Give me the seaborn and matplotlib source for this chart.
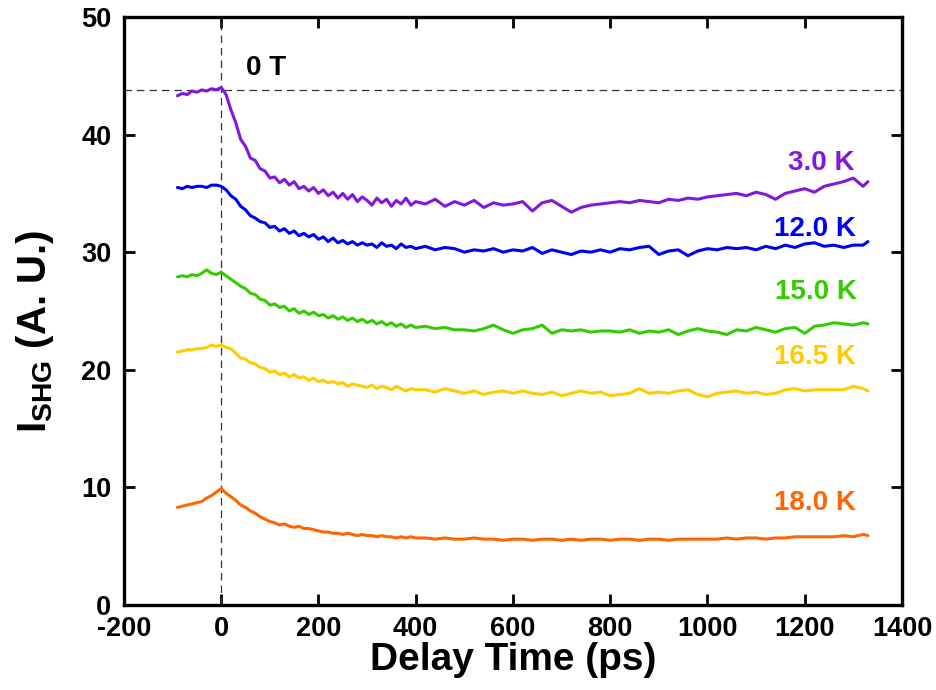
import numpy as np
import pandas as pd
import matplotlib
matplotlib.use("Agg")
import matplotlib.pyplot as plt
import seaborn as sns

# Delay-time sampling (ps): fine steps through the fast decay, coarser afterwards
delay = np.r_[np.arange(-90, 401, 10), np.arange(420, 1321, 20), 1330]

shg_3K = [43.3, 43.5, 43.4, 43.7, 43.6, 43.8, 43.7, 43.9, 43.8, 44.0,
          43.4, 42.1, 41.0, 39.6, 39.0, 38.0, 37.8, 37.1, 36.9, 36.3,
          36.4, 35.9, 36.2, 35.7, 36.0, 35.4, 35.6, 35.2, 35.5, 35.0,
          35.3, 34.8, 35.1, 34.6, 35.0, 34.5, 34.9, 34.3, 34.7, 34.4,
          34.0, 34.6, 34.2, 34.5, 33.9, 34.4, 34.1, 34.6, 34.0, 34.3,
          34.1, 34.5, 33.9, 34.3, 34.0, 34.4, 33.8, 34.2, 34.0, 34.1,
          34.3, 33.5, 34.2, 34.4, 33.9, 33.4, 33.8, 34.0, 34.1, 34.2,
          34.3, 34.2, 34.4, 34.3, 34.2, 34.5, 34.4, 34.6, 34.5, 34.7,
          34.8, 34.9, 35.0, 34.8, 35.1, 34.9, 34.5, 35.0, 35.2, 35.4,
          35.1, 35.6, 35.8, 36.0, 36.3, 35.6, 36.0]

shg_12K = [35.5, 35.4, 35.6, 35.5, 35.6, 35.6, 35.5, 35.7, 35.7, 35.6,
           35.3, 34.8, 34.5, 33.9, 33.6, 33.1, 32.9, 32.6, 32.5, 32.1,
           32.2, 31.8, 32.0, 31.6, 31.8, 31.4, 31.6, 31.3, 31.5, 31.1,
           31.3, 30.9, 31.2, 30.8, 31.0, 30.7, 30.9, 30.6, 30.8, 30.6,
           30.7, 30.4, 30.8, 30.5, 30.6, 30.3, 30.7, 30.4, 30.5, 30.3,
           30.5, 30.2, 30.4, 30.3, 30.0, 30.2, 30.1, 30.3, 30.0, 30.2,
           30.1, 30.4, 29.9, 30.2, 30.0, 29.8, 30.1, 30.0, 30.2, 30.0,
           30.3, 30.2, 30.4, 30.5, 29.8, 30.1, 30.2, 29.7, 30.1, 30.3,
           30.2, 30.4, 30.3, 30.4, 30.2, 30.5, 30.3, 30.6, 30.4, 30.7,
           30.8, 30.5, 30.6, 30.4, 30.6, 30.6, 30.9]

shg_15K = [27.9, 28.0, 27.9, 28.1, 28.0, 28.2, 28.5, 28.2, 28.1, 28.3,
           28.0, 27.7, 27.4, 27.1, 26.9, 26.5, 26.4, 26.0, 25.9, 25.5,
           25.6, 25.3, 25.4, 25.0, 25.2, 24.8, 25.0, 24.7, 24.9, 24.6,
           24.7, 24.4, 24.6, 24.3, 24.5, 24.2, 24.4, 24.1, 24.3, 24.0,
           24.2, 23.9, 24.1, 23.8, 24.0, 23.7, 23.9, 23.6, 23.8, 23.6,
           23.7, 23.5, 23.6, 23.4, 23.4, 23.3, 23.5, 23.8, 23.4, 23.1,
           23.4, 23.5, 23.8, 23.1, 23.4, 23.3, 23.4, 23.2, 23.3, 23.3,
           23.2, 23.4, 23.1, 23.3, 23.2, 23.4, 23.0, 23.3, 23.5, 23.3,
           23.2, 23.0, 23.4, 23.3, 23.6, 23.4, 23.2, 23.5, 23.6, 23.1,
           23.7, 23.8, 24.0, 23.9, 23.8, 24.0, 23.9]

shg_16p5K = [21.5, 21.6, 21.7, 21.7, 21.8, 21.8, 21.9, 22.1, 22.0, 22.1,
             21.9, 21.8, 21.4, 21.0, 20.9, 20.6, 20.5, 20.2, 20.1, 19.8,
             19.9, 19.6, 19.7, 19.4, 19.6, 19.3, 19.4, 19.1, 19.3, 19.0,
             19.1, 18.9, 19.0, 18.8, 18.9, 18.6, 18.8, 18.7, 18.6, 18.5,
             18.7, 18.4, 18.6, 18.5, 18.3, 18.6, 18.4, 18.2, 18.4, 18.3,
             18.3, 18.1, 18.4, 18.2, 18.0, 18.2, 17.9, 18.1, 18.2, 18.0,
             18.2, 18.0, 17.9, 18.1, 17.8, 18.0, 18.2, 18.0, 18.1, 17.8,
             17.9, 18.0, 18.4, 18.0, 18.1, 18.0, 18.2, 18.3, 17.9, 17.7,
             18.0, 18.1, 18.2, 18.0, 18.1, 17.9, 18.0, 18.3, 18.4, 18.2,
             18.3, 18.3, 18.3, 18.3, 18.6, 18.4, 18.2]

shg_18K = [8.3, 8.4, 8.5, 8.6, 8.7, 8.8, 9.1, 9.3, 9.6, 9.9,
           9.5, 9.2, 8.9, 8.5, 8.3, 8.0, 7.8, 7.5, 7.3, 7.1,
           7.0, 6.8, 6.9, 6.7, 6.6, 6.7, 6.5, 6.5, 6.4, 6.3,
           6.2, 6.2, 6.1, 6.1, 6.0, 6.1, 6.0, 5.9, 6.0, 5.9,
           5.9, 5.8, 5.9, 5.8, 5.8, 5.7, 5.8, 5.7, 5.8, 5.7,
           5.7, 5.6, 5.7, 5.6, 5.6, 5.7, 5.6, 5.6, 5.5, 5.6,
           5.6, 5.5, 5.6, 5.6, 5.5, 5.6, 5.5, 5.6, 5.6, 5.5,
           5.6, 5.6, 5.5, 5.6, 5.6, 5.5, 5.6, 5.6, 5.6, 5.6,
           5.6, 5.7, 5.6, 5.7, 5.7, 5.6, 5.7, 5.7, 5.8, 5.8,
           5.8, 5.8, 5.8, 5.9, 5.8, 6.0, 5.9]

temps = ["3.0 K", "12.0 K", "15.0 K", "16.5 K", "18.0 K"]
series = [shg_3K, shg_12K, shg_15K, shg_16p5K, shg_18K]
colors = ["#8018E0", "#0000F5", "#33CC00", "#FFCC00", "#FF6600"]
# where each temperature tag sits (ps, A.U.)
tag_x = [1303, 1305, 1308, 1306, 1306]
tag_y = [37.6, 32.0, 26.6, 21.1, 8.7]
zero_field_level = 43.8

frames = [pd.DataFrame({"delay": delay, "shg": vals, "temp": t})
          for t, vals in zip(temps, series)]
df = pd.concat(frames, ignore_index=True)

sns.set_style("ticks")
plt.rcParams["font.family"] = ["Liberation Sans", "DejaVu Sans"]
plt.rcParams["font.weight"] = "bold"
plt.rcParams["text.color"] = "black"
plt.rcParams["axes.labelcolor"] = "black"
plt.rcParams["xtick.color"] = "black"
plt.rcParams["ytick.color"] = "black"
plt.rcParams["axes.unicode_minus"] = False
plt.rcParams["mathtext.fontset"] = "custom"
plt.rcParams["mathtext.bf"] = "Liberation Sans:bold"
plt.rcParams["mathtext.rm"] = "Liberation Sans:bold"

fig = plt.figure(figsize=(9.37, 6.90), dpi=100)
ax = fig.add_axes([0.1323, 0.1232, 0.8303, 0.8522])

sns.lineplot(data=df, x="delay", y="shg", hue="temp", hue_order=temps,
             palette=dict(zip(temps, colors)), estimator=None, sort=False,
             linewidth=2.2, legend=False, ax=ax)

ax.axhline(zero_field_level, color="#333333", lw=0.9, ls=(0, (6, 4)), zorder=1)
ax.axvline(0, color="#333333", lw=0.9, ls=(0, (6, 4)), zorder=1)

for t, c, tx, ty in zip(temps, colors, tag_x, tag_y):
    ax.text(tx, ty, t, color=c, fontsize=20, fontweight="bold",
            ha="right", va="center")
ax.text(51, 45.7, "0 T", color="black", fontsize=20, fontweight="bold",
        ha="left", va="center")

ax.set_xlim(-200, 1400)
ax.set_ylim(0, 50)
ax.set_xticks(range(-200, 1401, 200))
ax.set_yticks(range(0, 51, 10))
ax.tick_params(direction="in", top=True, right=True, length=8, width=2,
               labelsize=19.5, colors="black")
ax.tick_params(axis="y", pad=9)
ax.tick_params(axis="x", pad=8)
for lab in ax.get_xticklabels() + ax.get_yticklabels():
    lab.set_fontweight("bold")
for sp in ax.spines.values():
    sp.set_linewidth(2.4)
    sp.set_color("black")

ax.set_xlabel("Delay Time (ps)", fontsize=28, fontweight="bold", labelpad=0)
ax.set_ylabel(r"$\mathbf{I_{SHG}}$ (A. U.)", fontsize=29, fontweight="bold",
              labelpad=18)
ax.yaxis.label.set_y(0.466)

fig.savefig("out.png", dpi=100)
